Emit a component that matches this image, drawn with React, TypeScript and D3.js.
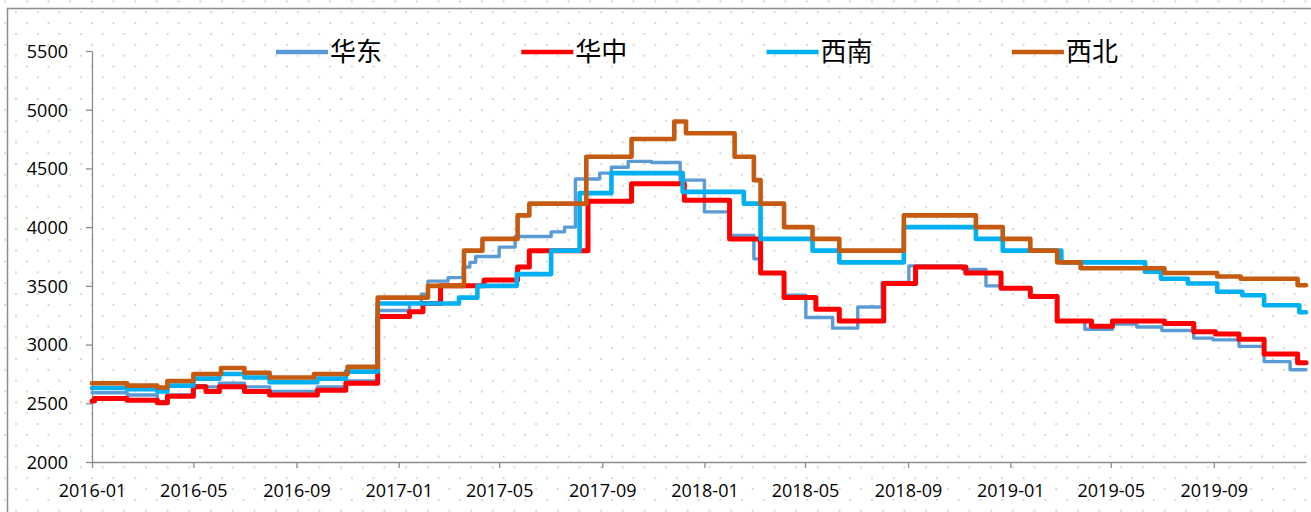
import React, { useRef, useEffect } from "react";
import * as d3 from "d3";

// step series, [change date, price]
const huadong: [string, number][] = [
	["2016-01-01", 2590], ["2016-02-12", 2570], ["2016-03-19", 2515], ["2016-03-31", 2570],
	["2016-05-01", 2650], ["2016-05-16", 2640], ["2016-06-01", 2670], ["2016-07-01", 2640],
	["2016-07-31", 2600], ["2016-09-26", 2640], ["2016-10-30", 2690], ["2016-12-07", 3290],
	["2017-01-14", 3350], ["2017-01-28", 3430], ["2017-02-05", 3540], ["2017-03-01", 3570],
	["2017-03-19", 3660], ["2017-03-27", 3700], ["2017-04-03", 3750], ["2017-05-01", 3830],
	["2017-05-20", 3920], ["2017-07-02", 3960], ["2017-07-18", 4000], ["2017-07-31", 4410],
	["2017-08-29", 4460], ["2017-09-12", 4510], ["2017-10-02", 4560], ["2017-10-30", 4550],
	["2017-12-03", 4400], ["2018-01-01", 4130], ["2018-01-31", 3930], ["2018-03-01", 3730],
	["2018-03-09", 3610], ["2018-04-06", 3420], ["2018-05-02", 3230], ["2018-06-03", 3140],
	["2018-07-03", 3320], ["2018-08-01", 3530], ["2018-09-02", 3670], ["2018-11-05", 3640],
	["2018-12-03", 3500], ["2018-12-21", 3480], ["2019-01-25", 3410], ["2019-02-26", 3200],
	["2019-03-31", 3130], ["2019-05-03", 3175], ["2019-06-01", 3150], ["2019-07-01", 3120],
	["2019-08-08", 3055], ["2019-08-31", 3040], ["2019-10-01", 2985], ["2019-10-31", 2855],
	["2019-12-01", 2785], ["2019-12-20", 2785],
];

const huazhong: [string, number][] = [
	["2016-01-01", 2520], ["2016-01-04", 2540], ["2016-02-12", 2525], ["2016-03-19", 2505],
	["2016-03-31", 2560], ["2016-05-01", 2640], ["2016-05-16", 2600], ["2016-06-01", 2640],
	["2016-07-01", 2600], ["2016-07-31", 2570], ["2016-09-26", 2610], ["2016-10-30", 2670],
	["2016-12-07", 3240], ["2017-01-14", 3280], ["2017-01-30", 3350], ["2017-02-20", 3500],
	["2017-04-13", 3550], ["2017-05-23", 3660], ["2017-06-06", 3800], ["2017-08-15", 4220],
	["2017-10-06", 4370], ["2017-12-08", 4230], ["2018-01-31", 3900], ["2018-03-09", 3610],
	["2018-04-06", 3400], ["2018-05-14", 3300], ["2018-06-11", 3200], ["2018-08-03", 3520],
	["2018-09-10", 3660], ["2018-11-09", 3610], ["2018-12-21", 3480], ["2019-01-25", 3410],
	["2019-02-26", 3200], ["2019-04-08", 3155], ["2019-05-03", 3200], ["2019-07-04", 3180],
	["2019-08-08", 3110], ["2019-09-03", 3090], ["2019-10-01", 3045], ["2019-10-31", 2920],
	["2019-12-10", 2845], ["2019-12-20", 2845],
];

const xinan: [string, number][] = [
	["2016-01-01", 2630], ["2016-02-12", 2620], ["2016-03-19", 2600], ["2016-03-31", 2650],
	["2016-05-01", 2710], ["2016-06-01", 2750], ["2016-07-01", 2720], ["2016-07-31", 2680],
	["2016-09-26", 2710], ["2016-10-30", 2770], ["2016-12-07", 3350], ["2017-03-14", 3400],
	["2017-04-05", 3500], ["2017-05-22", 3600], ["2017-07-02", 3800], ["2017-08-05", 4290],
	["2017-09-12", 4460], ["2017-12-06", 4300], ["2018-02-17", 4200], ["2018-03-09", 3900],
	["2018-05-10", 3800], ["2018-06-11", 3700], ["2018-08-27", 4000], ["2018-11-21", 3900],
	["2018-12-23", 3800], ["2019-03-03", 3700], ["2019-06-11", 3620], ["2019-06-30", 3560],
	["2019-08-01", 3520], ["2019-09-05", 3450], ["2019-10-05", 3420], ["2019-10-31", 3335],
	["2019-12-12", 3275], ["2019-12-20", 3275],
];

const xibei: [string, number][] = [
	["2016-01-01", 2670], ["2016-02-12", 2650], ["2016-03-19", 2635], ["2016-03-31", 2690],
	["2016-05-01", 2750], ["2016-06-03", 2800], ["2016-07-01", 2760], ["2016-07-31", 2720],
	["2016-09-22", 2750], ["2016-11-01", 2810], ["2016-12-07", 3400], ["2017-02-05", 3500],
	["2017-03-20", 3800], ["2017-04-11", 3900], ["2017-05-23", 4100], ["2017-06-06", 4200],
	["2017-08-13", 4600], ["2017-10-06", 4750], ["2017-11-26", 4900], ["2017-12-10", 4800],
	["2018-02-06", 4600], ["2018-03-01", 4400], ["2018-03-09", 4200], ["2018-04-06", 4000],
	["2018-05-10", 3900], ["2018-06-11", 3800], ["2018-08-27", 4100], ["2018-11-21", 4000],
	["2018-12-23", 3900], ["2019-01-25", 3800], ["2019-02-26", 3700], ["2019-03-26", 3650],
	["2019-07-04", 3610], ["2019-09-05", 3580], ["2019-10-03", 3560], ["2019-12-10", 3505],
	["2019-12-20", 3505],
];

const seriesNames = ["华东", "华中", "西南", "西北"];
const seriesColors = ["#5B9BD5", "#FF0000", "#00B0F0", "#C55A11"];
const seriesWidths = [3.4, 5, 4.6, 4.6];
const seriesData = [huadong, huazhong, xinan, xibei];

const yTicks = [2000, 2500, 3000, 3500, 4000, 4500, 5000, 5500];
const xStart = "2016-01-01";
const xEnd = "2019-12-20";

const W = 1311;
const H = 512;

const App = () => {
	const svgRef = useRef(null);

	useEffect(() => {
		const svg = d3.select(svgRef.current);
		svg.selectAll("*").remove();
		const parse = d3.timeParse("%Y-%m-%d");

		// background dots
		const defs = svg.append("defs");
		const pat = defs.append("pattern")
			.attr("id", "dots")
			.attr("patternUnits", "userSpaceOnUse")
			.attr("x", 4.2).attr("y", 0.5)
			.attr("width", 21.67).attr("height", 21.67);
		pat.append("circle").attr("cx", 1).attr("cy", 1).attr("r", 1).attr("fill", "#c8c8c8");
		pat.append("circle").attr("cx", 11.83).attr("cy", 11.83).attr("r", 1).attr("fill", "#c8c8c8");

		svg.append("rect").attr("width", W).attr("height", H).attr("fill", "#fff");
		svg.append("rect").attr("width", W).attr("height", H).attr("fill", "url(#dots)");
		svg.append("rect")
			.attr("x", 7.5).attr("y", 8.5)
			.attr("width", W + 20).attr("height", H + 20)
			.attr("fill", "none").attr("stroke", "#8c8c8c").attr("stroke-width", 1.5);

		const x = d3.scaleTime()
			.domain([parse(xStart), parse(xEnd)])
			.range([92, 1306]);
		const y = d3.scaleLinear()
			.domain([2000, 5500])
			.range([462, 51]);

		const font = "'Open Sans', 'Liberation Sans', sans-serif";

		const xAxis = d3.axisBottom(x)
			.ticks(d3.timeMonth.every(4))
			.tickFormat(d3.timeFormat("%Y-%m"))
			.tickSize(6).tickSizeOuter(0).tickPadding(16);
		const gx = svg.append("g").attr("transform", "translate(0,462)").call(xAxis);

		const yAxis = d3.axisLeft(y)
			.tickValues(yTicks)
			.tickFormat(d3.format("d"))
			.tickSize(6).tickSizeOuter(0).tickPadding(18);
		const gy = svg.append("g").attr("transform", "translate(92,0)").call(yAxis);

		[gx, gy].forEach(g => {
			g.select(".domain").attr("stroke", "#8c8c8c").attr("stroke-width", 1.3);
			g.selectAll(".tick line").attr("stroke", "#8c8c8c").attr("stroke-width", 1.3);
			g.selectAll(".tick text")
				.attr("fill", "#000")
				.style("font-family", font)
				.style("font-size", "18px");
		});
		gy.selectAll(".tick text").attr("dy", "0.35em");

		// lines
		const line = d3.line()
			.x(d => x(parse(d[0])))
			.y(d => y(d[1]))
			.curve(d3.curveStepAfter);

		seriesData.forEach((data, i) => {
			svg.append("path")
				.datum(data)
				.attr("d", line)
				.attr("fill", "none")
				.attr("stroke", seriesColors[i])
				.attr("stroke-width", seriesWidths[i])
				.attr("stroke-linejoin", "round")
				.attr("stroke-linecap", "round");
		});

		// legend
		const legend = svg.append("g");
		seriesNames.forEach((name, i) => {
			const lx = 276 + i * 245.3;
			legend.append("line")
				.attr("x1", lx).attr("x2", lx + 52)
				.attr("y1", 52).attr("y2", 52)
				.attr("stroke", seriesColors[i])
				.attr("stroke-width", 4.5);
			legend.append("text")
				.attr("x", lx + 54).attr("y", 52)
				.attr("dy", "0.36em")
				.style("font-family", "'Noto Sans CJK SC', sans-serif")
				.style("font-size", "26px")
				.attr("fill", "#000")
				.text(name);
		});
	});

	return (
		<div style={{ position: "absolute", left: 0, top: 0 }}>
			<svg ref={svgRef} width={W} height={H}></svg>
		</div>
	);
};

export default App;
